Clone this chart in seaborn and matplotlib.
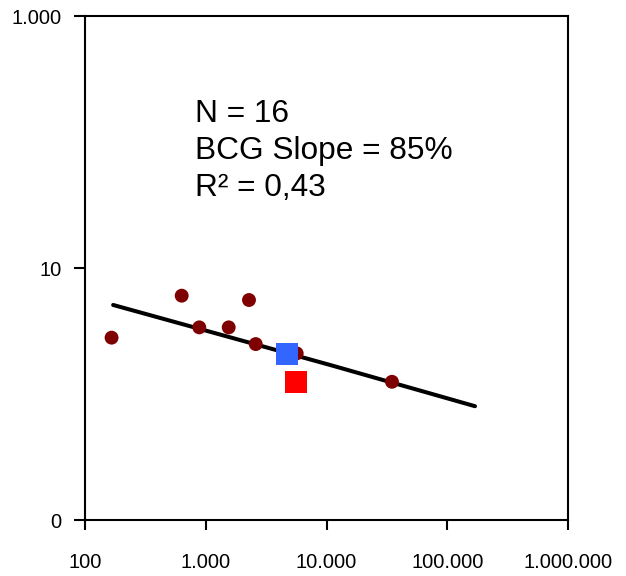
import matplotlib
matplotlib.use("Agg")
import matplotlib.pyplot as plt
import matplotlib.ticker as mticker
import seaborn as sns
import pandas as pd

dot_x = [166, 632, 884, 1549, 2281, 2594, 5665, 34850]
dot_y = [2.80, 6.03, 3.38, 3.38, 5.57, 2.49, 2.10, 1.25]

blue_x = [4680]
blue_y = [2.07]
red_x = [5560]
red_y = [1.25]

# fitted trend line
fit_x = [171, 10700, 169800]
fit_y = [5.09, 1.70, 0.80]

x_ticks = [100, 1000, 10000, 100000, 1000000]
y_ticks = [0.1, 10, 1000]

annotation = "N = 16\nBCG Slope = 85%\nR² = 0,43"

sns.set_style("white")
plt.rcParams['font.family'] = ['Liberation Sans', 'DejaVu Sans']
plt.rcParams['text.color'] = 'black'
plt.rcParams['xtick.color'] = 'black'
plt.rcParams['ytick.color'] = 'black'

fig = plt.figure(figsize=(6.26, 5.76), dpi=100)
ax = fig.add_axes([85 / 626, 56 / 576, 483 / 626, 504 / 576])

df_dots = pd.DataFrame({"x": dot_x, "y": dot_y})
df_fit = pd.DataFrame({"x": fit_x, "y": fit_y})

sns.lineplot(data=df_fit, x="x", y="y", ax=ax, color="black", linewidth=2.9, zorder=2)
sns.scatterplot(data=df_dots, x="x", y="y", ax=ax, color="#7f0000", s=100,
                edgecolor="none", zorder=3)
sns.scatterplot(x=blue_x, y=blue_y, ax=ax, color="#3366ff", marker="s", s=250,
                edgecolor="none", zorder=4)
sns.scatterplot(x=red_x, y=red_y, ax=ax, color="#ff0000", marker="s", s=250,
                edgecolor="none", zorder=4)

ax.set_xscale("log")
ax.set_yscale("log")
ax.set_xlim(100, 1000000)
ax.set_ylim(0.1, 1000)


def dot_thousands(v, pos):
    return f"{v:,.0f}".replace(",", ".")


ax.xaxis.set_major_locator(mticker.FixedLocator(x_ticks))
ax.yaxis.set_major_locator(mticker.FixedLocator(y_ticks))
ax.xaxis.set_minor_locator(mticker.NullLocator())
ax.yaxis.set_minor_locator(mticker.NullLocator())
ax.xaxis.set_major_formatter(mticker.FuncFormatter(dot_thousands))
ax.yaxis.set_major_formatter(mticker.FuncFormatter(dot_thousands))

ax.tick_params(axis="x", direction="out", length=7, width=1.5, pad=17,
               labelsize=14.5, bottom=True, top=False, labelcolor="black")
ax.tick_params(axis="y", direction="out", length=8, width=1.5, pad=9,
               labelsize=14.5, left=True, right=False, labelcolor="black")
for sp in ax.spines.values():
    sp.set_visible(True)
    sp.set_linewidth(1.5)
    sp.set_color("black")

ax.set_xlabel("")
ax.set_ylabel("")

ax.text((195 - 85) / 483, 1 - (99 - 16) / 504, annotation,
        transform=ax.transAxes, fontsize=22.8, va="top", ha="left",
        linespacing=1.3, color="black")

plt.savefig("out.png", dpi=100)
